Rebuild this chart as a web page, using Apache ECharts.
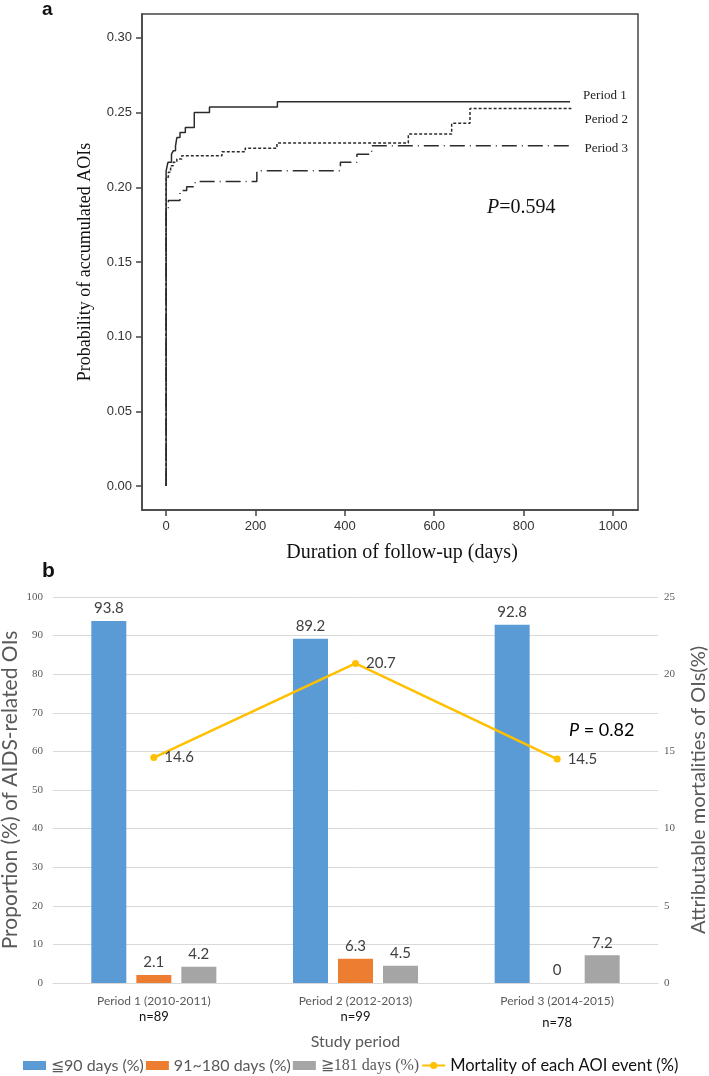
<!doctype html>
<html lang="en">
<head>
    <meta charset="utf-8">
    <title>AOI cumulative incidence and OI proportions</title>
    <script src="https://cdn.jsdelivr.net/npm/echarts@6/dist/echarts.min.js"></script>
    <style>
        html, body { margin: 0; padding: 0; background: #fff; }
    </style>
</head>
<body>
<div id="chart" style="width: 709px; height: 1076px;"></div>
<script>

// panel a: cumulative probability of AOIs (step curves)
var kmDays1 = [0, 0, 4, 12, 16, 21, 24, 31, 43, 63, 97, 249, 904];
var kmProb1 = [0, 0.211, 0.2167, 0.2222, 0.2244, 0.2278, 0.2333, 0.2367, 0.24, 0.25, 0.2538, 0.2573, 0.2573];
var kmDays2 = [0, 0, 5, 10, 16, 24, 35, 125, 177, 248, 542, 639, 680, 907];
var kmProb2 = [0, 0.2067, 0.21, 0.2144, 0.2167, 0.2189, 0.2211, 0.2238, 0.2262, 0.2296, 0.2356, 0.2429, 0.2527, 0.2527];
var kmDays3 = [0, 0, 5, 31, 46, 65, 203, 390, 427, 460, 907];
var kmProb3 = [0, 0.1856, 0.1911, 0.1978, 0.2004, 0.2038, 0.2111, 0.2167, 0.2222, 0.2278, 0.2278];
var kmXTicks = [0, 200, 400, 600, 800, 1000];
var kmYTicks = [0, 0.05, 0.10, 0.15, 0.20, 0.25, 0.30];

// panel b: proportions by study period
var periods = ['Period 1 (2010-2011)', 'Period 2 (2012-2013)', 'Period 3 (2014-2015)'];
var sampleSizes = ['n=89', 'n=99', 'n=78'];
var within90 = [93.8, 89.2, 92.8];
var within180 = [2.1, 6.3, 0];
var over181 = [4.2, 4.5, 7.2];
var mortality = [14.6, 20.7, 14.5];

var serif = '"Liberation Serif", "Times New Roman", serif';
var sans = '"Liberation Sans", Arial, sans-serif';
var soft = 'Lato, "Open Sans", sans-serif';

function zip(xs, ys) {
    var out = [];
    for (var i = 0; i < xs.length; i++) out.push([xs[i], ys[i]]);
    return out;
}

function kmSeries(name, xs, ys, dash, dy) {
    return {
        name: name,
        type: 'line',
        xAxisIndex: 0,
        yAxisIndex: 0,
        step: 'end',
        showSymbol: false,
        silent: true,
        data: zip(xs, ys),
        lineStyle: {color: '#2b2b2b', width: 1.5, type: dash},
        endLabel: {
            show: true,
            formatter: name,
            distance: 13,
            offset: [0, dy],
            fontFamily: serif,
            fontSize: 13,
            color: '#222'
        }
    };
}

function barSeries(name, values, color) {
    return {
        name: name,
        type: 'bar',
        xAxisIndex: 1,
        yAxisIndex: 1,
        barWidth: 35,
        barGap: '28.6%',
        data: values,
        itemStyle: {color: color},
        label: {
            show: true,
            position: 'top',
            distance: 5,
            fontFamily: soft,
            fontSize: 15,
            color: '#404040'
        }
    };
}

var myChart = echarts.init(document.getElementById('chart'));

myChart.setOption({
    animation: false,
    backgroundColor: '#fff',
    grid: [
        {left: 142, right: 71, top: 14, bottom: 566, outerBoundsMode: 'none', containLabel: false,
         show: true, borderColor: '#444', borderWidth: 1.5},
        {left: 53, right: 51, top: 597, bottom: 93, outerBoundsMode: 'none', containLabel: false}
    ],
    xAxis: [
        {
            gridIndex: 0, type: 'value', min: -54, max: 1056,
            name: 'Duration of follow-up (days)', nameLocation: 'middle', nameGap: 33,
            nameTextStyle: {fontFamily: serif, fontSize: 20, color: '#111', padding: [0, 0, 0, 24]},
            axisLine: {onZero: false, lineStyle: {color: '#444', width: 1.5}},
            axisTick: {show: true, length: 6, customValues: kmXTicks, lineStyle: {color: '#444', width: 1.5}},
            axisLabel: {
                customValues: kmXTicks, margin: 10, fontFamily: sans, fontSize: 13, color: '#333',
                formatter: function (v) { return String(v); }
            },
            splitLine: {show: false}
        },
        {
            gridIndex: 1, type: 'category', data: periods,
            name: 'Study period', nameLocation: 'middle', nameGap: 51,
            nameTextStyle: {fontFamily: soft, fontSize: 16, color: '#595959'},
            axisLine: {lineStyle: {color: '#d9d9d9', width: 1}},
            axisTick: {show: false},
            axisLabel: {
                margin: 10,
                interval: 0,
                formatter: function (v, i) {
                    var tag = i === 2 ? 'nlow' : 'n';
                    return '{p|' + v + '}\n{' + tag + '|' + sampleSizes[i] + '}';
                },
                rich: {
                    p: {fontFamily: soft, fontSize: 12, color: '#595959', lineHeight: 16},
                    n: {fontFamily: soft, fontSize: 13, color: '#111', lineHeight: 16},
                    nlow: {fontFamily: soft, fontSize: 13, color: '#111', lineHeight: 28}
                }
            }
        }
    ],
    yAxis: [
        {
            gridIndex: 0, type: 'value', min: -0.016, max: 0.316,
            name: 'Probability of accumulated AOIs', nameLocation: 'middle', nameGap: 48, nameRotate: 90,
            nameTextStyle: {fontFamily: serif, fontSize: 18, color: '#111'},
            axisLine: {show: true, onZero: false, lineStyle: {color: '#444', width: 1.5}},
            axisTick: {show: true, length: 6, customValues: kmYTicks, lineStyle: {color: '#444', width: 1.5}},
            axisLabel: {
                customValues: kmYTicks, margin: 10, fontFamily: sans, fontSize: 13, color: '#333',
                formatter: function (v) { return v.toFixed(2); }
            },
            splitLine: {show: false}
        },
        {
            gridIndex: 1, type: 'value', min: 0, max: 100, interval: 10,
            name: 'Proportion (%) of AIDS-related OIs', nameLocation: 'middle', nameGap: 32, nameRotate: 90,
            nameMoveOverlap: false,
            nameTextStyle: {fontFamily: soft, fontSize: 21, color: '#595959'},
            axisLine: {show: false},
            axisTick: {show: false},
            axisLabel: {margin: 10, fontFamily: serif, fontSize: 11, color: '#595959'},
            splitLine: {lineStyle: {color: '#d9d9d9', width: 1}}
        },
        {
            gridIndex: 1, type: 'value', position: 'right', min: 0, max: 25, interval: 5,
            name: 'Attributable mortalities of OIs(%)', nameLocation: 'middle', nameGap: 31, nameRotate: 90,
            nameMoveOverlap: false,
            nameTextStyle: {fontFamily: soft, fontSize: 20, color: '#595959'},
            axisLine: {show: false},
            axisTick: {show: false},
            axisLabel: {margin: 6, fontFamily: serif, fontSize: 11, color: '#595959'},
            splitLine: {show: false}
        }
    ],
    legend: {
        left: 23,
        top: 1057,
        padding: 0,
        itemWidth: 23,
        itemHeight: 9,
        itemGap: 2,
        selectedMode: false,
        textStyle: {fontFamily: soft, fontSize: 16, color: '#595959'},
        data: [
            {name: '≦90 days (%)', icon: 'rect'},
            {name: '91~180 days (%)', icon: 'rect'},
            {name: '≧181 days (%)', icon: 'rect', textStyle: {fontFamily: serif, fontSize: 16, color: '#595959'}},
            {name: 'Mortality of each AOI event (%)', textStyle: {fontFamily: soft, fontSize: 16.5, color: '#111'}}
        ]
    },
    graphic: [
        {type: 'text', left: 42, top: 0, style: {text: 'a', font: 'bold 19px ' + sans, fill: '#111'}},
        {type: 'text', left: 42, top: 561, style: {text: 'b', font: 'bold 21px ' + sans, fill: '#111'}},
        {
            type: 'text', left: 487, top: 198,
            style: {
                text: '{i|P}{r|=0.594}',
                rich: {
                    i: {fontFamily: serif, fontSize: 20, fontStyle: 'italic', fill: '#111'},
                    r: {fontFamily: serif, fontSize: 20, fill: '#111'}
                }
            }
        },
        {
            type: 'text', left: 569, top: 721,
            style: {
                text: '{i|P}{r| = 0.82}',
                rich: {
                    i: {fontFamily: soft, fontSize: 18, fontStyle: 'italic', fill: '#000'},
                    r: {fontFamily: soft, fontSize: 18, fill: '#000'}
                }
            }
        }
    ],
    series: [
        kmSeries('Period 1', kmDays1, kmProb1, 'solid', -6),
        kmSeries('Period 2', kmDays2, kmProb2, [3, 2], 11),
        kmSeries('Period 3', kmDays3, kmProb3, [15, 5, 1, 5], 3),
        barSeries('≦90 days (%)', within90, '#5b9bd5'),
        barSeries('91~180 days (%)', within180, '#ed7d31'),
        barSeries('≧181 days (%)', over181, '#a5a5a5'),
        {
            name: 'Mortality of each AOI event (%)',
            type: 'line',
            xAxisIndex: 1,
            yAxisIndex: 2,
            data: mortality,
            symbol: 'circle',
            symbolSize: 7,
            itemStyle: {color: '#ffc000'},
            lineStyle: {color: '#ffc000', width: 2.5},
            label: {
                show: true,
                position: 'right',
                distance: 7,
                fontFamily: soft,
                fontSize: 15,
                color: '#404040'
            }
        }
    ]
});

</script>
</body>
</html>
